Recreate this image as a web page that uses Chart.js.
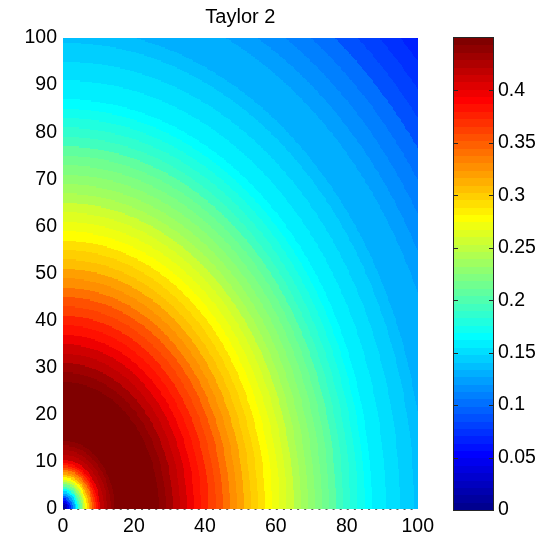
<!DOCTYPE html>
<html>
<head>
<meta charset="utf-8">
<title>Taylor 2</title>
<script src="https://cdn.jsdelivr.net/npm/chart.js@4.4.0/dist/chart.umd.min.js"></script>
<style>
  html, body { margin: 0; padding: 0; background: #ffffff; }
  #wrap { position: relative; width: 550px; height: 541px; overflow: hidden; }
  #map { position: absolute; left: 0; top: 0; }
  #bar { position: absolute; left: 440px; top: 0; }
</style>
</head>
<body>
<div id="wrap">
  <canvas id="map" width="440" height="541"></canvas>
  <canvas id="bar" width="110" height="541"></canvas>
</div>
<script>
// ---- chart data ----
const titleText = 'Taylor 2';
const xTicks = [0, 20, 40, 60, 80, 100];
const yTicks = [0, 10, 20, 30, 40, 50, 60, 70, 80, 90, 100];
const cbTicks = [0, 0.05, 0.1, 0.15, 0.2, 0.25, 0.3, 0.35, 0.4];
const cbTickLabels = ['0', '0.05', '0.1', '0.15', '0.2', '0.25', '0.3', '0.35', '0.4'];

// radial profile of the field: value against distance from the origin
const profileRadius = [
  0, 0.5, 1, 1.5, 2, 2.5, 3, 3.5, 4, 4.5, 5, 5.5, 6, 6.5, 7, 7.5, 8, 8.5, 9, 9.5, 10,
  11, 12, 13, 14, 15, 16,
  18, 20, 22, 24, 26, 28, 30, 32, 34, 36, 38, 40, 42, 44, 46, 48, 50, 52, 54, 56, 58, 60,
  62, 64, 66, 68, 70, 72, 74, 76, 78, 80, 82, 84, 86, 88, 90, 92, 94, 96, 98, 100,
  104, 108, 112, 116, 120, 124, 128, 132, 136, 140, 142
];
const profileValue = [
  0.000, 0.012, 0.028, 0.048, 0.070, 0.095, 0.120, 0.145, 0.168, 0.192, 0.215, 0.237, 0.258, 0.278, 0.298, 0.317, 0.335, 0.352, 0.368, 0.382, 0.394,
  0.415, 0.427, 0.435, 0.440, 0.443, 0.445,
  0.448, 0.449, 0.449, 0.447, 0.443, 0.438, 0.430, 0.420, 0.408, 0.396, 0.386, 0.376, 0.365, 0.354, 0.342, 0.330, 0.319, 0.308, 0.298, 0.289, 0.280, 0.271,
  0.263, 0.254, 0.245, 0.236, 0.228, 0.220, 0.212, 0.204, 0.196, 0.188, 0.180, 0.173, 0.167, 0.161, 0.156, 0.152, 0.148, 0.145, 0.142, 0.139,
  0.133, 0.127, 0.120, 0.113, 0.106, 0.099, 0.091, 0.083, 0.075, 0.066, 0.062
];

const xRange = [0, 100];
const yRange = [0, 100];
const colorRange = [0, 0.45];
const gridStep = 0.25;
const colorLevels = 64;

// ---- jet colormap (MATLAB construction) ----
function buildJet(m) {
  const n = Math.ceil(m / 4);
  const u = [];
  for (let i = 1; i <= n; i++) u.push(i / n);
  for (let i = 1; i < n; i++) u.push(1);
  for (let i = n; i >= 1; i--) u.push(i / n);
  const g0 = Math.ceil(n / 2) - (m % 4 === 1 ? 1 : 0);
  const rgb = Array.from({ length: m }, () => [0, 0, 0]);
  for (let j = 0; j < u.length; j++) {
    const gRow = g0 + j + 1;
    const rRow = gRow + n;
    const bRow = gRow - n;
    if (gRow >= 1 && gRow <= m) rgb[gRow - 1][1] = u[j];
    if (rRow >= 1 && rRow <= m) rgb[rRow - 1][0] = u[j];
    if (bRow >= 1 && bRow <= m) rgb[bRow - 1][2] = u[j];
  }
  return rgb.map(c => 'rgb(' + c.map(v => Math.round(v * 255)).join(',') + ')');
}
const jetColors = buildJet(colorLevels);

function colorIndex(v) {
  const t = (v - colorRange[0]) / (colorRange[1] - colorRange[0]);
  return Math.max(0, Math.min(colorLevels - 1, Math.floor(t * colorLevels)));
}

// value of the nearest profile sample for a given radius
function profileAt(r) {
  let best = 0, bestD = Infinity;
  for (let i = 0; i < profileRadius.length; i++) {
    const d = Math.abs(profileRadius[i] - r);
    if (d < bestD) { bestD = d; best = i; }
  }
  return profileValue[best];
}

// grid of cells covering the axes
const cells = [];
const nx = Math.round((xRange[1] - xRange[0]) / gridStep);
const ny = Math.round((yRange[1] - yRange[0]) / gridStep);
for (let j = 0; j < ny; j++) {
  for (let i = 0; i < nx; i++) {
    const x0 = xRange[0] + i * gridStep, x1 = x0 + gridStep;
    const y0 = yRange[0] + j * gridStep, y1 = y0 + gridStep;
    const cx = (x0 + x1) / 2, cy = (y0 + y1) / 2;
    cells.push({ x0, x1, y0, y1, v: profileAt(Math.hypot(cx, cy)) });
  }
}

const FONT = 'Arial, "Liberation Sans", Helvetica, sans-serif';
const tickFont = { family: FONT, size: 19.5 };

// draws the cells through the chart scales
const heatmapPlugin = {
  id: 'heatmap',
  beforeDatasetsDraw(chart) {
    const { ctx } = chart;
    const xs = chart.scales.x, ys = chart.scales.y;
    ctx.save();
    for (const c of cells) {
      const px0 = Math.round(xs.getPixelForValue(c.x0));
      const px1 = Math.round(xs.getPixelForValue(c.x1));
      const py0 = Math.round(ys.getPixelForValue(c.y1));
      const py1 = Math.round(ys.getPixelForValue(c.y0));
      if (px1 <= px0 || py1 <= py0) continue;
      ctx.fillStyle = jetColors[colorIndex(c.v)];
      ctx.fillRect(px0, py0, px1 - px0, py1 - py0);
    }
    // dotted edge along the bottom of the axes
    const yb = Math.round(ys.getPixelForValue(yRange[0])) + 0.5;
    ctx.strokeStyle = '#5a5a5a';
    ctx.lineWidth = 1;
    ctx.setLineDash([2, (xs.getPixelForValue(2) - xs.getPixelForValue(0)) - 2]);
    ctx.beginPath();
    ctx.moveTo(xs.getPixelForValue(xRange[0]), yb);
    ctx.lineTo(xs.getPixelForValue(xRange[1]), yb);
    ctx.stroke();
    ctx.restore();
  }
};

new Chart(document.getElementById('map'), {
  type: 'scatter',
  data: { datasets: [{ data: [], pointRadius: 0 }] },
  options: {
    responsive: false,
    animation: false,
    events: [],
    layout: { padding: { left: 0, right: 19, top: 0, bottom: 0 } },
    plugins: {
      legend: { display: false },
      tooltip: { enabled: false },
      title: {
        display: true,
        text: titleText,
        fullSize: false,
        color: '#000',
        font: { family: FONT, size: 20, weight: 'normal', lineHeight: 1.2 },
        padding: { top: 5, bottom: 9 }
      }
    },
    scales: {
      x: {
        type: 'linear', min: xRange[0], max: xRange[1], position: 'bottom',
        afterBuildTicks: s => { s.ticks = xTicks.map(v => ({ value: v })); },
        afterFit: s => { s.height = 32; },
        ticks: { color: '#000', font: tickFont, padding: 6, maxRotation: 0, autoSkip: false,
                 callback: v => String(v) },
        grid: { display: false, drawTicks: false },
        border: { display: false }
      },
      y: {
        type: 'linear', min: yRange[0], max: yRange[1], position: 'left',
        afterBuildTicks: s => { s.ticks = yTicks.map(v => ({ value: v })); },
        afterFit: s => { s.width = 63; },
        ticks: { color: '#000', font: tickFont, padding: 6, autoSkip: false,
                 callback: v => String(v) },
        grid: { display: false, drawTicks: false },
        border: { display: false }
      }
    }
  },
  plugins: [heatmapPlugin]
});

// colour bar: one band per colormap level, drawn through its value scale
const colorbarPlugin = {
  id: 'colorbar',
  beforeDatasetsDraw(chart) {
    const { ctx, chartArea } = chart;
    const ys = chart.scales.y;
    const left = chartArea.left, right = chartArea.right;
    ctx.save();
    for (let k = 0; k < colorLevels; k++) {
      const v0 = colorRange[0] + (colorRange[1] - colorRange[0]) * k / colorLevels;
      const v1 = colorRange[0] + (colorRange[1] - colorRange[0]) * (k + 1) / colorLevels;
      const p0 = Math.round(ys.getPixelForValue(v0));
      const p1 = Math.round(ys.getPixelForValue(v1));
      ctx.fillStyle = jetColors[k];
      ctx.fillRect(left, p1, right - left, p0 - p1);
    }
    ctx.strokeStyle = '#262626';
    ctx.lineWidth = 1;
    const top = Math.round(ys.getPixelForValue(colorRange[1]));
    const bot = Math.round(ys.getPixelForValue(colorRange[0]));
    ctx.strokeRect(Math.round(left) - 0.5, top - 0.5, Math.round(right - left) + 1, bot - top + 1);
    ctx.beginPath();
    for (const t of cbTicks) {
      const p = Math.round(ys.getPixelForValue(t)) + 0.5;
      ctx.moveTo(left, p); ctx.lineTo(left + 4, p);
      ctx.moveTo(right - 4, p); ctx.lineTo(right, p);
    }
    ctx.stroke();
    ctx.restore();
  }
};

new Chart(document.getElementById('bar'), {
  type: 'scatter',
  data: { datasets: [{ data: [], pointRadius: 0 }] },
  options: {
    responsive: false,
    animation: false,
    events: [],
    layout: { padding: { left: 14, right: 0, top: 38, bottom: 31 } },
    plugins: { legend: { display: false }, tooltip: { enabled: false }, title: { display: false } },
    scales: {
      x: { type: 'linear', min: 0, max: 1, display: false },
      y: {
        type: 'linear', position: 'right', min: colorRange[0], max: colorRange[1],
        afterBuildTicks: s => { s.ticks = cbTicks.map(v => ({ value: v })); },
        afterFit: s => { s.width = 57; },
        ticks: { color: '#000', font: tickFont, padding: 5, autoSkip: false,
                 callback: (v, i) => cbTickLabels[i] },
        grid: { display: false, drawTicks: false },
        border: { display: false }
      }
    }
  },
  plugins: [colorbarPlugin]
});
</script>
</body>
</html>
